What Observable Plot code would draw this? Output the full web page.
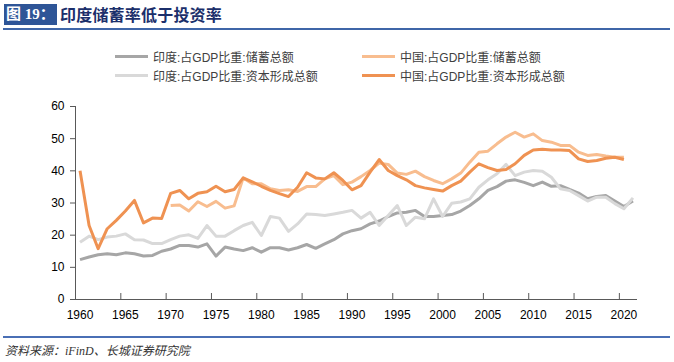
<!DOCTYPE html>
<html><head><meta charset="utf-8">
<script src="https://cdn.jsdelivr.net/npm/d3@7"></script>
<script src="https://cdn.jsdelivr.net/npm/@observablehq/plot@0.6"></script>
<style>
body{margin:0;background:#fff;}
#wrap{position:relative;width:674px;height:362px;overflow:hidden;font-family:"Liberation Sans","Noto Sans CJK SC",sans-serif;}
#tbox{position:absolute;left:4px;top:4px;width:53px;height:21px;background:#2e5597;color:#fff;font:bold 15px/21px "Liberation Serif","Noto Sans CJK SC",serif;text-align:center;}
#ttext{position:absolute;left:60px;top:3px;font:bold 16px/22px "Noto Sans CJK SC",sans-serif;color:#1b2f6b;letter-spacing:0.2px;}
#tline{position:absolute;left:3px;top:28px;width:667px;height:2px;background:#3f66a8;}
#bline{position:absolute;left:3px;top:336px;width:667px;height:1.5px;background:#4a6fb5;}
#src{position:absolute;left:5px;top:343px;font:italic 12px/16px "Liberation Serif","Noto Sans CJK SC",serif;color:#333;}
.lg{position:absolute;display:flex;align-items:center;font-size:12px;color:#404040;white-space:nowrap;height:16px;}
.lg span.sw{display:inline-block;width:33px;height:3px;margin-right:5px;}
#chart{position:absolute;left:0;top:90px;}
</style></head><body>
<div id="wrap">
 <div id="tbox">图 19：</div>
 <div id="ttext">印度储蓄率低于投资率</div>
 <div id="tline"></div>
 <div id="legend"></div>
 <div id="chart"></div>
 <div id="bline"></div>
 <div id="src">资料来源：iFinD、长城证券研究院</div>
</div>
<script>
const years = [1960,1961,1962,1963,1964,1965,1966,1967,1968,1969,1970,1971,1972,1973,1974,1975,1976,1977,1978,1979,1980,1981,1982,1983,1984,1985,1986,1987,1988,1989,1990,1991,1992,1993,1994,1995,1996,1997,1998,1999,2000,2001,2002,2003,2004,2005,2006,2007,2008,2009,2010,2011,2012,2013,2014,2015,2016,2017,2018,2019,2020,2021];
// 印度:占GDP比重:储蓄总额 (1960-2021)
const indiaSaving = [12.4,13.2,13.9,14.2,13.9,14.5,14.2,13.5,13.7,15.0,15.7,16.8,16.8,16.3,17.3,13.5,16.3,15.7,15.2,16.1,14.7,16.1,16.1,15.4,16.1,17.1,15.9,17.3,18.6,20.4,21.4,22.0,23.5,24.4,25.8,26.9,27.1,27.7,25.8,25.8,26.1,26.4,27.5,29.2,31.3,33.9,35.1,36.8,37.2,36.4,35.4,36.5,35.2,35.4,34.2,33.1,31.3,32.0,32.3,30.6,28.9,30.6];
// 印度:占GDP比重:资本形成总额 (1960-2021)
const indiaCF = [17.8,19.7,18.6,19.4,19.7,20.4,18.6,18.5,17.4,17.4,18.6,19.7,20.1,19.0,23.0,19.7,19.7,21.4,23.0,24.0,19.9,25.8,25.3,21.2,23.5,26.6,26.4,26.1,26.6,27.1,27.7,25.3,27.1,23.0,26.1,29.2,23.0,25.6,25.1,31.3,25.8,29.9,30.3,31.3,34.9,37.2,39.1,42.0,38.5,39.6,40.1,39.9,38.0,34.4,33.9,32.3,30.6,31.8,31.8,29.8,28.2,31.6];
// 中国:占GDP比重:储蓄总额 (1970-2020)
const chinaSavingYears = [1970,1971,1972,1973,1974,1975,1976,1977,1978,1979,1980,1981,1982,1983,1984,1985,1986,1987,1988,1989,1990,1991,1992,1993,1994,1995,1996,1997,1998,1999,2000,2001,2002,2003,2004,2005,2006,2007,2008,2009,2010,2011,2012,2013,2014,2015,2016,2017,2018,2019,2020];
const chinaSaving = [29.2,29.4,27.5,30.4,28.9,30.5,28.4,29.1,37.8,36.0,36.0,34.4,33.9,34.1,33.6,35.1,35.1,37.5,38.5,35.7,36.5,38.2,40.1,42.4,42.0,39.3,38.9,39.9,38.2,37.0,36.0,37.5,39.3,42.7,45.8,46.1,48.4,50.5,52.0,50.5,51.5,49.4,48.9,47.9,47.9,45.8,44.8,45.1,44.6,44.2,44.2];
// 中国:占GDP比重:资本形成总额 (1960-2020)
const chinaCF = [40.0,23.0,15.8,22.0,24.6,27.5,30.8,23.8,25.3,25.2,33.0,33.9,31.3,33.0,33.5,35.2,33.5,34.2,37.8,36.6,35.2,33.9,32.9,32.0,34.9,39.4,37.8,37.5,39.4,37.0,34.1,35.4,39.6,43.5,40.1,38.5,37.2,35.4,34.7,34.2,33.7,35.4,36.8,39.6,42.2,41.0,40.1,40.4,42.2,44.8,46.5,46.7,46.5,46.5,46.3,43.7,42.9,43.2,43.9,44.2,43.5];
const yTicks = [0,10,20,30,40,50,60];
const xLabels = [1960,1965,1970,1975,1980,1985,1990,1995,2000,2005,2010,2015,2020];

const series = [
  {name:"印度:占GDP比重:储蓄总额", color:"#a6a6a6", x: years, y: indiaSaving},
  {name:"中国:占GDP比重:储蓄总额", color:"#f8bd8f", x: chinaSavingYears, y: chinaSaving},
  {name:"印度:占GDP比重:资本形成总额", color:"#d9d9d9", x: years, y: indiaCF},
  {name:"中国:占GDP比重:资本形成总额", color:"#ef9252", x: years.slice(0, chinaCF.length), y: chinaCF}
];

// legend
const lg = document.getElementById("legend");
const lgPos = [[115,48],[362,48],[115,67],[362,67]];
series.forEach((s,i)=>{
  const d = document.createElement("div");
  d.className = "lg";
  d.style.left = lgPos[i][0]+"px";
  d.style.top = lgPos[i][1]+"px";
  d.innerHTML = `<span class="sw" style="background:${s.color}"></span>${s.name}`;
  lg.appendChild(d);
});

const tickPos = xLabels.map(d => d - 0.5).concat([2021.5]).filter(d => d > 1959.5);

const lineMarks = series.map(s => Plot.line(s.x.map((x,i)=>({x, y: s.y[i]})), {x:"x", y:"y", stroke:s.color, strokeWidth:3, strokeLinejoin:"round", strokeLinecap:"butt"}));

const chart = Plot.plot({
  width: 674, height: 240,
  marginLeft: 75, marginRight: 37, marginTop: 16, marginBottom: 31,
  x: {type:"linear", domain:[1959.5, 2021.5]},
  y: {domain:[0,60]},
  style: {fontFamily:"Liberation Sans, Arial, sans-serif", fontSize:"12px", color:"#000", background:"transparent"},
  marks: [
    Plot.axisY({ticks: yTicks, tickSize: 5, tickPadding: 6, tickFormat: d => String(d), stroke:"#595959", fill:"#000", fontSize:12, label:null}),
    Plot.axisX({ticks: xLabels, tickSize: 0, tickPadding: 11, tickFormat: d => String(d), fill:"#000", fontSize:12, label:null}),
    Plot.ruleX([1959.5], {stroke:"#595959"}),
    Plot.ruleY([0], {stroke:"#595959"}),
    Plot.ruleX(tickPos.slice(0,-1), {x: d => d, y1: 0, y2: 0, insetTop: -6, stroke:"#595959"}),
    ...lineMarks
  ]
});
document.getElementById("chart").appendChild(chart);
</script>
</body></html>
